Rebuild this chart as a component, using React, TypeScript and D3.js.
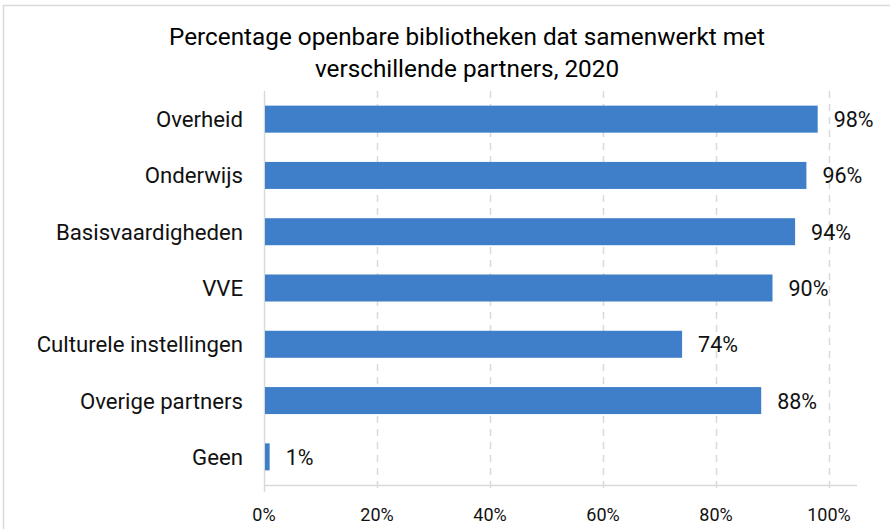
import * as d3 from "d3";
import { useEffect, useRef } from "react";

const categories = [
  "Overheid",
  "Onderwijs",
  "Basisvaardigheden",
  "VVE",
  "Culturele instellingen",
  "Overige partners",
  "Geen",
];
const values = [98, 96, 94, 90, 74, 88, 1];
const ticks = [0, 20, 40, 60, 80, 100];
const titleLines = [
  "Percentage openbare bibliotheken dat samenwerkt met",
  "verschillende partners, 2020",
];

const W = 890;
const H = 529;
const FONT = "Roboto, 'DejaVu Sans', sans-serif";

export default function App() {
  const ref = useRef<SVGSVGElement>(null);

  useEffect(() => {
    const svg = d3.select(ref.current);
    svg.selectAll("*").remove();

    const left = 264;
    const right = 829;
    const top = 91;
    const bottom = 485;

    // frame
    svg.append("rect")
      .attr("x", 3.5).attr("y", 5.5)
      .attr("width", W + 10).attr("height", H + 10)
      .attr("fill", "white")
      .attr("stroke", "#d9d9d9").attr("stroke-width", 1.5);

    // title
    svg.append("g").selectAll("text")
      .data(titleLines)
      .enter().append("text")
      .attr("x", 467)
      .attr("y", (d, i) => 45 + i * 32)
      .attr("text-anchor", "middle")
      .attr("font-family", FONT)
      .attr("font-size", 24.3)
      .attr("fill", "#000")
      .text((d) => d);

    const x = d3.scaleLinear().domain([0, 100]).range([left, right]);
    const y = d3.scaleBand().domain(categories).range([top, bottom]).paddingInner(0.52).paddingOuter(0.26);

    // grid lines
    svg.append("g").selectAll("line")
      .data(ticks)
      .enter().append("line")
      .attr("x1", (d) => x(d) + 0.5).attr("x2", (d) => x(d) + 0.5)
      .attr("y1", top).attr("y2", bottom + 7)
      .attr("stroke", "#d9d9d9")
      .attr("stroke-width", 1.5)
      .attr("stroke-dasharray", (d) => (d === 0 ? null : "7,6"));

    // axis line
    svg.append("line")
      .attr("x1", left).attr("x2", 857)
      .attr("y1", bottom + 0.5).attr("y2", bottom + 0.5)
      .attr("stroke", "#d9d9d9").attr("stroke-width", 1.5);

    // tick labels
    svg.append("g").selectAll("text")
      .data(ticks)
      .enter().append("text")
      .attr("x", (d) => x(d))
      .attr("y", 521)
      .attr("text-anchor", "middle")
      .attr("font-family", FONT)
      .attr("font-size", 18)
      .attr("fill", "#111")
      .text((d) => d + "%");

    // bars
    svg.append("g").selectAll("rect")
      .data(values)
      .enter().append("rect")
      .attr("x", x(0) + 1)
      .attr("y", (d, i) => y(categories[i])!)
      .attr("width", (d) => x(d) - x(0) - 1)
      .attr("height", y.bandwidth())
      .attr("fill", "#3f7fca");

    // value labels
    svg.append("g").selectAll("text")
      .data(values)
      .enter().append("text")
      .attr("x", (d) => x(d) + 16)
      .attr("y", (d, i) => y(categories[i])! + y.bandwidth() / 2 + 8)
      .attr("font-family", FONT)
      .attr("font-size", 21.5)
      .attr("fill", "#111")
      .text((d) => d + "%");

    // category labels
    svg.append("g").selectAll("text")
      .data(categories)
      .enter().append("text")
      .attr("x", 243)
      .attr("y", (d) => y(d)! + y.bandwidth() / 2 + 8)
      .attr("text-anchor", "end")
      .attr("font-family", FONT)
      .attr("font-size", 22.2)
      .attr("fill", "#111")
      .text((d) => d);
  }, []);

  return (
    <svg
      ref={ref}
      width={W}
      height={H}
      style={{ position: "absolute", left: 0, top: 0, display: "block" }}
    />
  );
}
